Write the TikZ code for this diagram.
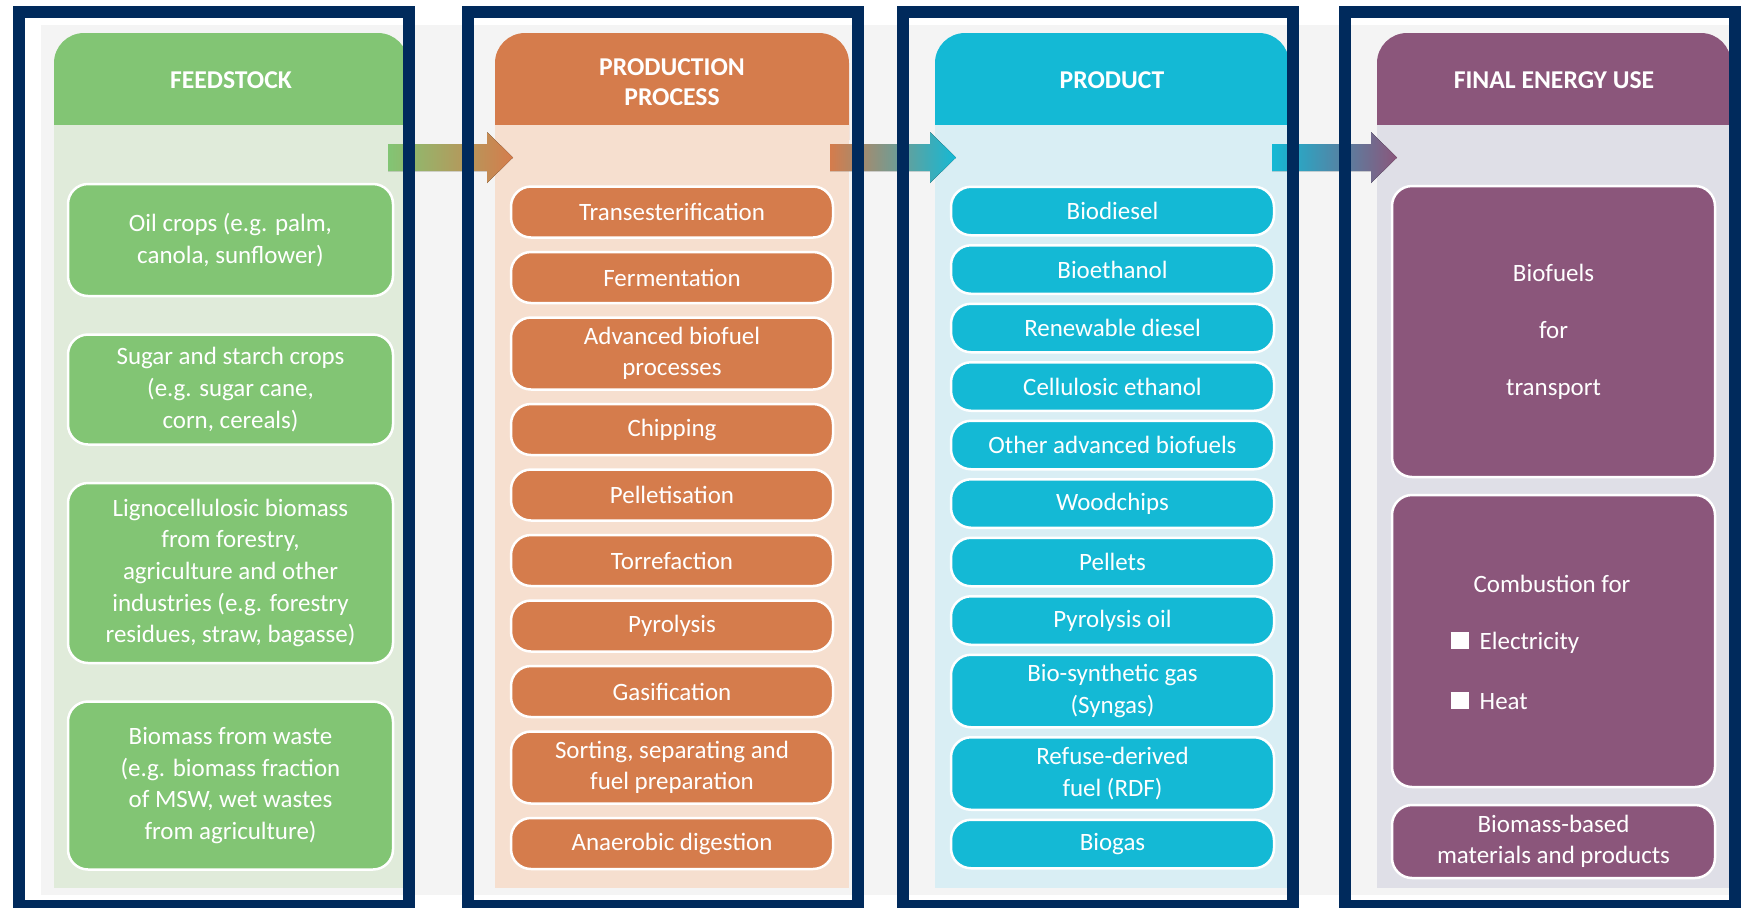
\documentclass[tikz,border=0pt]{standalone}
\usepackage{fontspec}
\setmainfont{Carlito}
\usepackage{tikz}
\usetikzlibrary{positioning,calc}
\definecolor{bfnavy}{RGB}{0,42,92}
\definecolor{bfgray}{RGB}{244,244,244}
\definecolor{bfgreen}{RGB}{130,197,116}
\definecolor{bflgreen}{RGB}{224,235,218}
\definecolor{bforange}{RGB}{213,124,76}
\definecolor{bflorange}{RGB}{246,223,207}
\definecolor{bfcyan}{RGB}{20,185,213}
\definecolor{bflcyan}{RGB}{217,238,244}
\definecolor{bfpurple}{RGB}{139,86,123}
\definecolor{bflpurple}{RGB}{223,223,231}
\newcommand{\boxfont}{\fontsize{7.1}{9}\selectfont}
\newcommand{\titlefont}{\fontsize{7.3}{8.5}\selectfont\bfseries}
\newcommand{\whitesq}{\rule{1.8mm}{1.7mm}}
% gradient arrow from one named point to another (#3 -> #4 colour)
\newcommand{\flowarrow}[4]{%
  \fill[left color=#3, right color=#4] ($(#1)+(0,-13.5)$) -- ($(#2)+(-26,-13.5)$) -- ($(#2)+(-26,-25.5)$) -- (#2)
    -- ($(#2)+(-26,25.5)$) -- ($(#2)+(-26,13.5)$) -- ($(#1)+(0,13.5)$) -- cycle;}
\tikzstyle{stagebox} = [rectangle, rounded corners=2mm, draw=white, line width=0.25mm, text=white, align=center, inner sep=0pt, outer sep=0pt, font=\boxfont]
\tikzstyle{feedbox} = [stagebox, fill=bfgreen, minimum width=32.5mm]
\tikzstyle{procbox} = [stagebox, fill=bforange, minimum width=32.2mm, minimum height=5.1mm]
\tikzstyle{prodbox} = [stagebox, fill=bfcyan, minimum width=32.3mm, minimum height=4.85mm]
\tikzstyle{usebox} = [stagebox, fill=bfpurple, minimum width=32.3mm]
\tikzstyle{coltitle} = [text=white, align=center, inner sep=0pt, font=\titlefont]
\tikzstyle{coltext} = [text=white, inner sep=0pt, font=\boxfont]
\tikzstyle{navyframe} = [draw=bfnavy, line width=1.2mm]

\begin{document}
\begin{tikzpicture}[x=0.1mm, y=-0.1mm]
\useasboundingbox (0,0) rectangle (1741,907);
\fill[white] (0,0) rectangle (1741,907);
\fill[bfgray] (41,25) rectangle (1735,895);

% Feedstock column
\fill[bfgreen, rounded corners=3mm] (54,33) rectangle (408,170);
\fill[bflgreen] (54,125) rectangle (408,888);
\node[coltitle] (feedtitle) at (231,80) {FEEDSTOCK};
\node[feedbox, minimum height=11.2mm] (oil) at (230.5,240) {Oil crops (e.g. palm,\\canola, sunflower)};
\node[feedbox, minimum height=11mm, below=3.85mm of oil] (sugar) {Sugar and starch crops\\(e.g. sugar cane,\\corn, cereals)};
\node[feedbox, minimum height=18mm, below=3.85mm of sugar] (ligno) {Lignocellulosic biomass\\from forestry,\\agriculture and other\\industries (e.g. forestry\\residues, straw, bagasse)};
\node[feedbox, minimum height=16.8mm, below=3.85mm of ligno] (waste) {Biomass from waste\\(e.g. biomass fraction\\of MSW, wet wastes\\from agriculture)};

% Production process column
\fill[bforange, rounded corners=3mm] (495,33) rectangle (849,170);
\fill[bflorange] (495,125) rectangle (849,888);
\node[coltitle] (proctitle) at (672,82) {PRODUCTION\\PROCESS};
\node[procbox] (trans) at (672,212) {Transesterification};
\node[procbox, below=1.45mm of trans] (ferm) {Fermentation};
\node[procbox, minimum height=7.2mm, below=1.45mm of ferm] (advproc) {Advanced biofuel\\processes};
\node[procbox, below=1.45mm of advproc] (chip) {Chipping};
\node[procbox, below=1.45mm of chip] (pellet) {Pelletisation};
\node[procbox, below=1.45mm of pellet] (torre) {Torrefaction};
\node[procbox, below=1.45mm of torre] (pyro) {Pyrolysis};
\node[procbox, below=1.45mm of pyro] (gasif) {Gasification};
\node[procbox, minimum height=7.2mm, below=1.45mm of gasif] (sort) {Sorting, separating and\\fuel preparation};
\node[procbox, below=1.45mm of sort] (anaer) {Anaerobic digestion};

% Product column
\fill[bfcyan, rounded corners=3mm] (935,33) rectangle (1289,170);
\fill[bflcyan] (935,125) rectangle (1289,888);
\node[coltitle] (prodtitle) at (1112,80) {PRODUCT};
\node[prodbox] (biodiesel) at (1112.5,211) {Biodiesel};
\node[prodbox, below=1mm of biodiesel] (bioeth) {Bioethanol};
\node[prodbox, below=1mm of bioeth] (renew) {Renewable diesel};
\node[prodbox, below=1mm of renew] (cellu) {Cellulosic ethanol};
\node[prodbox, below=1mm of cellu] (otheradv) {Other advanced biofuels};
\node[prodbox, below=1mm of otheradv] (woodchips) {Woodchips};
\node[prodbox, below=1mm of woodchips] (pellets) {Pellets};
\node[prodbox, below=1mm of pellets] (pyroil) {Pyrolysis oil};
\node[prodbox, minimum height=7.25mm, below=1mm of pyroil] (syngas) {Bio-synthetic gas\\(Syngas)};
\node[prodbox, minimum height=7.25mm, below=1mm of syngas] (rdf) {Refuse-derived\\fuel (RDF)};
\node[prodbox, below=1mm of rdf] (biogas) {Biogas};

% Final energy use column
\fill[bfpurple, rounded corners=3mm] (1377,33) rectangle (1731,170);
\fill[bflpurple] (1377,125) rectangle (1731,888);
\node[coltitle] (usetitle) at (1554,80) {FINAL ENERGY USE};
\node[usebox, minimum height=29.1mm, font=\fontsize{7.1}{16.2}\selectfont] (transport) at (1553.5,331.5) {Biofuels\\for\\transport};
\node[usebox, minimum height=29.2mm, below=1.8mm of transport] (combust) {};
\node[coltext, anchor=base] (combfor) at (1552,592) {Combustion for};
\node[coltext, anchor=base west] (elec) at (1450,649) {\whitesq\hspace{1.1mm}Electricity};
\node[coltext, anchor=base west] (heat) at (1450,709) {\whitesq\hspace{1.1mm}Heat};
\node[usebox, minimum height=7.3mm, below=1.8mm of combust] (materials) {Biomass-based\\materials and products};

% Arrows between the columns
\coordinate (feedout) at (388,157.5);
\coordinate (procin) at (513,157.5);
\coordinate (procout) at (830,157.5);
\coordinate (prodin) at (956,157.5);
\coordinate (prodout) at (1272,157.5);
\coordinate (usein) at (1397,157.5);
\flowarrow{feedout}{procin}{bfgreen}{bforange}
\flowarrow{procout}{prodin}{bforange}{bfcyan}
\flowarrow{prodout}{usein}{bfcyan}{bfpurple}

% Navy frames
\draw[navyframe] (19,12) rectangle (409,906);
\draw[navyframe] (468,12) rectangle (858,906);
\draw[navyframe] (903,12) rectangle (1293,906);
\draw[navyframe] (1345,12) rectangle (1735,906);
\end{tikzpicture}
\end{document}
